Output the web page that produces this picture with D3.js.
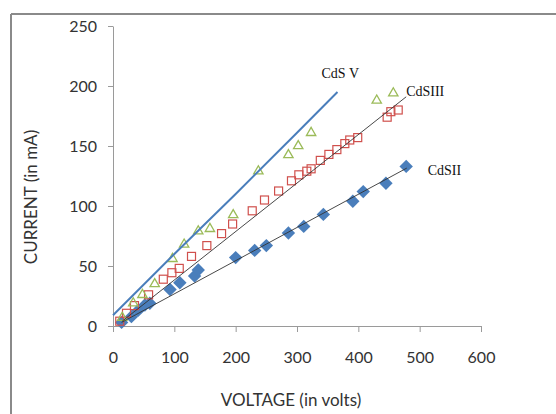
<!DOCTYPE html>
<html><head><meta charset="utf-8">
<script src="https://cdn.jsdelivr.net/npm/d3@7"></script>
<style>html,body{margin:0;padding:0;background:#fff;}svg{display:block;}</style>
</head><body>
<svg id="c" width="556" height="414"></svg>
<script>
// ---- data ----
const xTicks = [0, 100, 200, 300, 400, 500, 600];
const yTicks = [0, 50, 100, 150, 200, 250];

// CdS V : measured points (green triangles)
const cdsVx = [15, 33, 48, 68, 97, 116, 139, 158, 196, 237, 286, 302, 323, 430, 457];
const cdsVy = [7, 19, 26, 35, 56, 68, 79, 81, 92.5, 129, 142.5, 150, 161, 188, 194];
// CdS V : line (blue)
const cdsVLineX = [0, 100, 200, 300, 366];
const cdsVLineY = [9, 60, 110, 161, 195];

// CdS III : red squares
const cdsIIIx = [11, 22, 35, 58, 82, 96, 108, 128, 153, 177, 195, 227, 247, 270, 291, 303, 316, 323, 338, 352, 365, 378, 386, 399, 447, 453, 465];
const cdsIIIy = [4, 10.6, 17, 26, 39, 44.4, 48, 58, 67, 77, 85, 96, 105, 112.5, 121, 126, 129, 131, 138, 143, 147, 152, 155, 157, 174, 178.6, 180];
const cdsIIIfitX = [15, 478];
const cdsIIIfitY = [4, 191];

// CdS II : blue diamonds
const cdsIIx = [14, 30, 41, 52, 60, 93, 109, 133, 139, 200, 231, 250, 286, 311, 343, 391, 408, 445, 478];
const cdsIIy = [3, 7.8, 13, 17.5, 19, 30.4, 36, 41.7, 46.7, 57, 63, 67, 77.5, 83, 93, 104, 112, 119, 133];
const cdsIIfitX = [14, 479];
const cdsIIfitY = [3, 131.6];

const labels = [
  {t: "CdS V", x: 340, y: 207},
  {t: "CdSIII", x: 478, y: 192},
  {t: "CdSII", x: 513, y: 126}
];

// ---- chart ----
const svg = d3.select("#c");
const x = d3.scaleLinear().domain([0, 600]).range([113, 481]);
const y = d3.scaleLinear().domain([0, 250]).range([326, 26]);
const zip = (a, b) => a.map((v, i) => [v, b[i]]);

// frame
svg.append("line").attr("x1", 11).attr("x2", 556).attr("y1", 14).attr("y2", 14)
  .attr("stroke", "#8a8a8a").attr("stroke-width", 2);
svg.append("line").attr("x1", 11).attr("x2", 11).attr("y1", 14).attr("y2", 414)
  .attr("stroke", "#8a8a8a").attr("stroke-width", 2);

const font = "Lato, 'Open Sans', sans-serif";
const gx = svg.append("g").attr("transform", "translate(0,326)")
  .call(d3.axisBottom(x).tickValues(xTicks).tickSize(6).tickPadding(20).tickSizeOuter(0));
const gy = svg.append("g").attr("transform", "translate(113,0)")
  .call(d3.axisLeft(y).tickValues(yTicks).tickSize(5).tickPadding(11).tickSizeOuter(0));
[gx, gy].forEach(g => {
  g.select(".domain").attr("stroke", "#9a9a9a");
  g.selectAll(".tick line").attr("stroke", "#9a9a9a");
  g.selectAll("text").attr("font-family", font).attr("font-size", 16).attr("fill", "#333");
});

svg.append("text").attr("x", 291).attr("y", 406).attr("text-anchor", "middle")
  .attr("font-family", font).attr("font-size", 17).attr("fill", "#333").text("VOLTAGE (in volts)");
svg.append("text").attr("transform", "translate(37,197) rotate(-90)").attr("text-anchor", "middle")
  .attr("font-family", font).attr("font-size", 17).attr("fill", "#333").text("CURRENT (in mA)");

// diamonds
svg.append("g").selectAll("path").data(zip(cdsIIx, cdsIIy)).join("path")
  .attr("d", d3.symbol(d3.symbolSquare, 90))
  .attr("transform", d => `translate(${x(d[0])},${y(d[1])}) rotate(45)`)
  .attr("fill", "#4a7ebb");

// squares
svg.append("g").selectAll("rect").data(zip(cdsIIIx, cdsIIIy)).join("rect")
  .attr("x", d => x(d[0]) - 4).attr("y", d => y(d[1]) - 4)
  .attr("width", 8).attr("height", 8)
  .attr("fill", "none").attr("stroke", "#d0504d").attr("stroke-width", 1.2);

// triangles
svg.append("g").selectAll("path").data(zip(cdsVx, cdsVy)).join("path")
  .attr("d", d3.symbol(d3.symbolTriangle, 38))
  .attr("transform", d => `translate(${x(d[0])},${y(d[1])})`)
  .attr("fill", "none").attr("stroke", "#9bbb59").attr("stroke-width", 1.3);

const line = d3.line().x(d => x(d[0])).y(d => y(d[1]));
svg.append("path").datum(zip(cdsVLineX, cdsVLineY)).attr("d", line)
  .attr("fill", "none").attr("stroke", "#4a7ebb").attr("stroke-width", 2);
svg.append("path").datum(zip(cdsIIIfitX, cdsIIIfitY)).attr("d", line)
  .attr("fill", "none").attr("stroke", "#333").attr("stroke-width", 0.9);
svg.append("path").datum(zip(cdsIIfitX, cdsIIfitY)).attr("d", line)
  .attr("fill", "none").attr("stroke", "#333").attr("stroke-width", 0.9);

// series labels
svg.append("g").selectAll("text").data(labels).join("text")
  .attr("x", d => x(d.x)).attr("y", d => y(d.y))
  .attr("font-family", "'Liberation Serif', 'DejaVu Serif', serif").attr("font-size", 14)
  .attr("fill", "#111").text(d => d.t);
</script>
</body></html>
